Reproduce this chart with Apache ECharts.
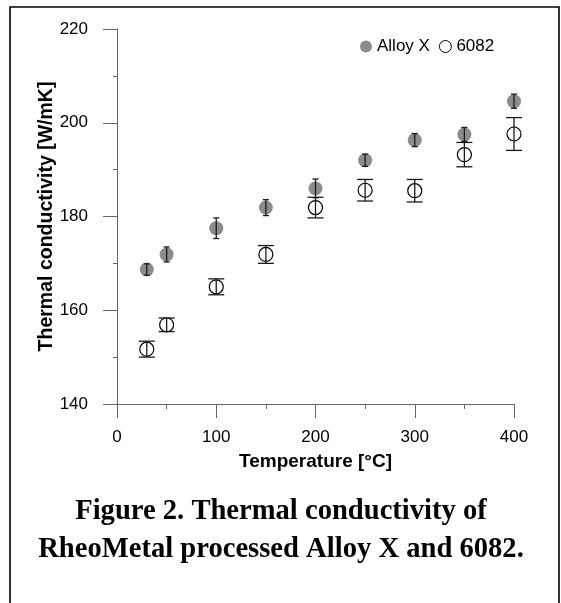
<!DOCTYPE html>
<html>
<head>
<meta charset="utf-8">
<script src="https://cdn.jsdelivr.net/npm/echarts@6/dist/echarts.min.js"></script>
<style>
html,body{margin:0;padding:0;background:#fff;}
#chart{width:561px;height:603px;}
</style>
</head>
<body>
<div id="chart"></div>
<script>
// Data
const temperatures = [30, 50, 100, 150, 200, 250, 300, 350, 400];
const alloyX       = [168.7, 171.9, 177.5, 181.9, 186.0, 192.0, 196.3, 197.5, 204.6];
const alloyXErr    = [1.2, 1.6, 2.2, 1.7, 2.0, 1.3, 1.4, 1.5, 1.5];
const al6082       = [151.7, 156.9, 165.0, 171.9, 181.9, 185.6, 185.5, 193.2, 197.6];
const al6082Err    = [1.7, 1.45, 1.7, 1.9, 2.2, 2.3, 2.4, 2.6, 3.5];
const seriesNames  = ['Alloy X', '6082'];
const xTitle = 'Temperature [°C]';
const yTitle = 'Thermal conductivity [W/mK]';
const captionLines = ['Figure 2. Thermal conductivity of', 'RheoMetal processed Alloy X and 6082.'];

const sans = 'Liberation Sans, Arial, sans-serif';
const serif = 'Liberation Serif, Times New Roman, serif';

function pts(vals) { return temperatures.map((t, i) => [t, vals[i]]); }
function errPts(vals, errs) { return temperatures.map((t, i) => [t, vals[i], errs[i]]); }

function errRenderer(capHalf) {
  return function (params, api) {
    const x = api.value(0), y = api.value(1), e = api.value(2);
    const top = api.coord([x, y + e]);
    const bot = api.coord([x, y - e]);
    const st = { stroke: '#1a1a1a', lineWidth: 1.3 };
    return {
      type: 'group',
      children: [
        { type: 'line', shape: { x1: top[0], y1: top[1], x2: bot[0], y2: bot[1] }, style: st },
        { type: 'line', shape: { x1: top[0] - capHalf, y1: top[1], x2: top[0] + capHalf, y2: top[1] }, style: st },
        { type: 'line', shape: { x1: bot[0] - capHalf, y1: bot[1], x2: bot[0] + capHalf, y2: bot[1] }, style: st }
      ]
    };
  };
}

const chart = echarts.init(document.getElementById('chart'), null, { renderer: 'canvas' });
const axisCol = '#666';
chart.setOption({
  animation: false,
  backgroundColor: '#fff',
  grid: { left: 117, right: 47, top: 29, bottom: 199, containLabel: false },
  legend: {
    left: 355, top: 33,
    itemWidth: 12, itemHeight: 12, itemGap: 9,
    textStyle: { fontFamily: sans, fontSize: 17, color: '#000' },
    data: [
      { name: seriesNames[0], icon: 'circle', itemStyle: { color: '#8c8c8c', borderWidth: 0 } },
      { name: seriesNames[1], icon: 'circle', itemStyle: { color: '#fff', borderColor: '#000', borderWidth: 1 } }
    ]
  },
  xAxis: {
    type: 'value', min: 0, max: 400, interval: 100,
    name: xTitle, nameLocation: 'middle', nameGap: 48, nameMoveOverlap: false,
    nameTextStyle: { fontFamily: sans, fontSize: 19, fontWeight: 'bold', color: '#000' },
    axisLine: { show: true, onZero: false, lineStyle: { color: axisCol, width: 1 } },
    axisTick: { show: true, inside: false, length: 14, lineStyle: { color: axisCol } },
    minorTick: { show: true, splitNumber: 2, length: 5, lineStyle: { color: axisCol } },
    axisLabel: { fontFamily: sans, fontSize: 17, color: '#000', margin: 25 },
    splitLine: { show: false }
  },
  yAxis: {
    type: 'value', min: 140, max: 220, interval: 20,
    name: yTitle, nameLocation: 'middle', nameGap: 60, nameMoveOverlap: false,
    nameTextStyle: { fontFamily: sans, fontSize: 19.5, fontWeight: 'bold', color: '#000' },
    axisLine: { show: true, onZero: false, lineStyle: { color: axisCol, width: 1 } },
    axisTick: { show: true, inside: false, length: 14, lineStyle: { color: axisCol } },
    minorTick: { show: true, splitNumber: 2, length: 4, lineStyle: { color: axisCol } },
    axisLabel: { fontFamily: sans, fontSize: 17, color: '#000', margin: 29 },
    splitLine: { show: false }
  },
  series: [
    {
      name: seriesNames[0], type: 'scatter', symbol: 'circle', symbolSize: 14,
      itemStyle: { color: '#8c8c8c', opacity: 1 },
      data: pts(alloyX), z: 2
    },
    {
      name: seriesNames[1], type: 'scatter', symbol: 'circle', symbolSize: 14,
      itemStyle: { color: 'rgba(255,255,255,0)', borderColor: '#000', borderWidth: 1.2, opacity: 1 },
      data: pts(al6082), z: 2
    },
    {
      name: 'errX', type: 'custom', renderItem: errRenderer(3),
      encode: { x: 0, y: 1 }, data: errPts(alloyX, alloyXErr), z: 3, silent: true
    },
    {
      name: 'err6082', type: 'custom', renderItem: errRenderer(8),
      encode: { x: 0, y: 1 }, data: errPts(al6082, al6082Err), z: 3, silent: true
    }
  ],
  graphic: [
    { type: 'rect', shape: { x: 10, y: 7, width: 549, height: 620 }, style: { fill: 'none', stroke: '#000', lineWidth: 1.6 }, silent: true },
    { type: 'text', x: 281, y: 512, style: { text: captionLines[0], fontFamily: serif, fontSize: 28.6, fontWeight: 'bold', fill: '#000', textAlign: 'center', textVerticalAlign: 'middle' } },
    { type: 'text', x: 281, y: 550, style: { text: captionLines[1], fontFamily: serif, fontSize: 28.6, fontWeight: 'bold', fill: '#000', textAlign: 'center', textVerticalAlign: 'middle' } }
  ]
});
</script>
</body>
</html>
